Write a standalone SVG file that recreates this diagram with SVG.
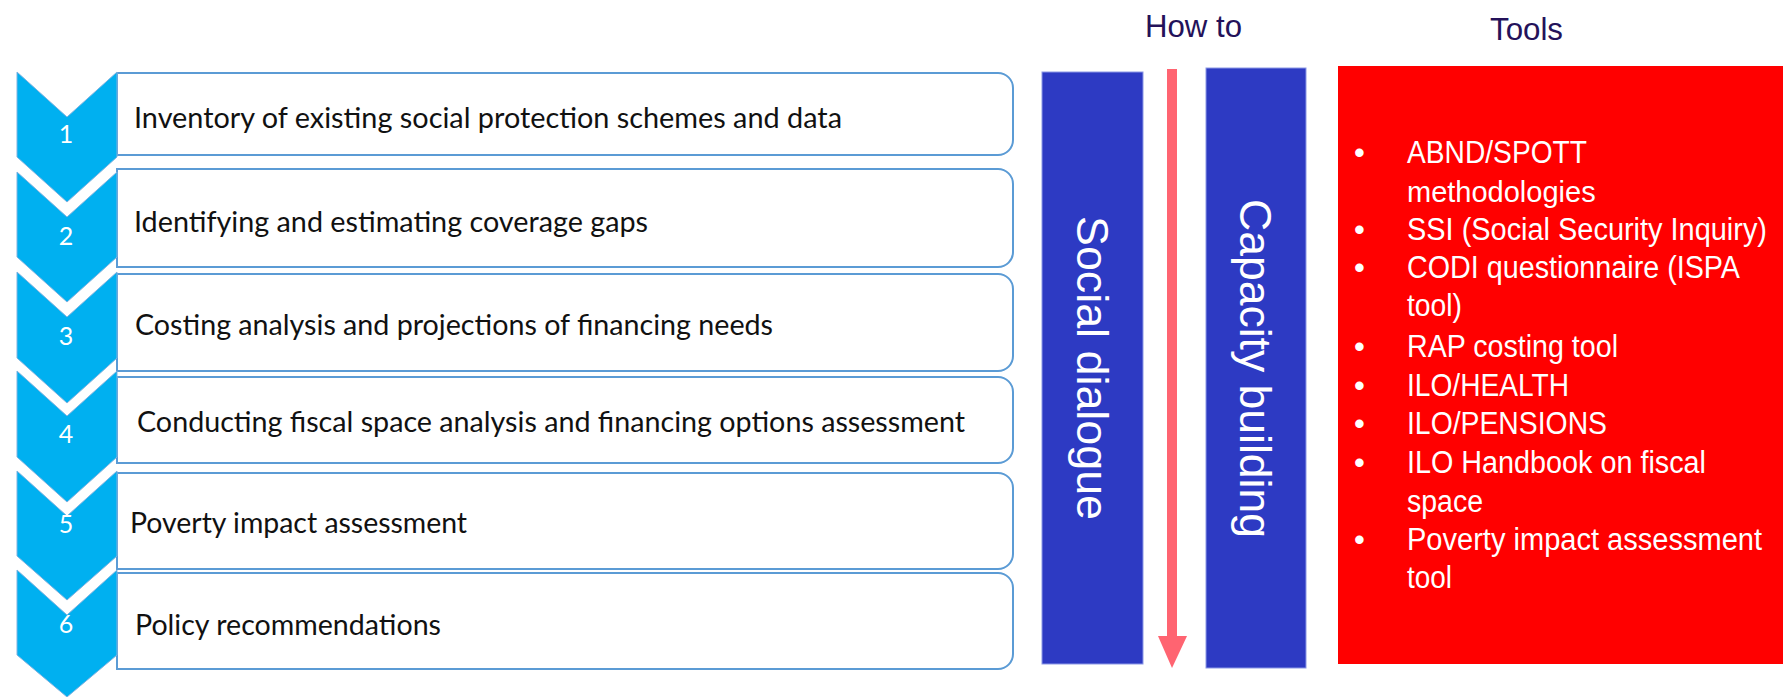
<svg xmlns="http://www.w3.org/2000/svg" width="1783" height="697" viewBox="0 0 1783 697">
<style>
.box{fill:#FFFFFF;stroke:#5B9BD5;stroke-width:2}
.chev{fill:#00B0F0;stroke:#7FB2E0;stroke-width:1}
.num{font-family:Lato,"Open Sans",sans-serif;font-size:25px;fill:#FFFFFF;text-anchor:middle}
.lbl{font-family:Lato,"Open Sans",sans-serif;font-size:29px;fill:#111111}
.bar{fill:#2D3AC3;stroke:#8C98E6;stroke-width:1}
.vtxt{font-family:"Liberation Sans",Arial,sans-serif;font-size:44px;fill:#FFFFFF}
.head{font-family:"Liberation Sans",Arial,sans-serif;font-size:31px;fill:#24125A}
.tool{font-family:"Liberation Sans",Arial,sans-serif;font-size:31px;fill:#FFFFFF}
</style>

<g id="step1">
<path class="box" d="M117,73 H998 A15,15 0 0 1 1013,88 V140 A15,15 0 0 1 998,155 H117 Z"/>
<path class="chev" d="M17,72 L67,117 L117,72 V157 L67,202 L17,157 Z"/>
<text class="num" x="66" y="143">1</text>
<text class="lbl" x="134" y="128" textLength="708" lengthAdjust="spacingAndGlyphs">Inventory of existing social protection schemes and data</text>
</g>

<g id="step2">
<path class="box" d="M117,169 H998 A15,15 0 0 1 1013,184 V252 A15,15 0 0 1 998,267 H117 Z"/>
<path class="chev" d="M17,172 L67,217 L117,172 V257 L67,302 L17,257 Z"/>
<text class="num" x="66" y="245">2</text>
<text class="lbl" x="134" y="232" textLength="514" lengthAdjust="spacingAndGlyphs">Identifying and estimating coverage gaps</text>
</g>

<g id="step3">
<path class="box" d="M117,274 H998 A15,15 0 0 1 1013,289 V356 A15,15 0 0 1 998,371 H117 Z"/>
<path class="chev" d="M17,272 L67,317 L117,272 V358 L67,403 L17,358 Z"/>
<text class="num" x="66" y="345">3</text>
<text class="lbl" x="135" y="335" textLength="638" lengthAdjust="spacingAndGlyphs">Costing analysis and projections of financing needs</text>
</g>

<g id="step4">
<path class="box" d="M117,377 H998 A15,15 0 0 1 1013,392 V448 A15,15 0 0 1 998,463 H117 Z"/>
<path class="chev" d="M17,371 L67,416 L117,371 V457 L67,502 L17,457 Z"/>
<text class="num" x="66" y="443">4</text>
<text class="lbl" x="137" y="432" textLength="828" lengthAdjust="spacingAndGlyphs">Conducting fiscal space analysis and financing options assessment</text>
</g>

<g id="step5">
<path class="box" d="M117,473 H998 A15,15 0 0 1 1013,488 V554 A15,15 0 0 1 998,569 H117 Z"/>
<path class="chev" d="M17,471 L67,516 L117,471 V556 L67,600 L17,556 Z"/>
<text class="num" x="66" y="533">5</text>
<text class="lbl" x="130" y="533" textLength="337" lengthAdjust="spacingAndGlyphs">Poverty impact assessment</text>
</g>

<g id="step6">
<path class="box" d="M117,573 H998 A15,15 0 0 1 1013,588 V654 A15,15 0 0 1 998,669 H117 Z"/>
<path class="chev" d="M17,570 L67,615 L117,570 V655 L67,697 L17,655 Z"/>
<text class="num" x="66" y="633">6</text>
<text class="lbl" x="135" y="635" textLength="306" lengthAdjust="spacingAndGlyphs">Policy recommendations</text>
</g>

<g id="howto-heading">
<text class="head" x="1145" y="37" textLength="97" lengthAdjust="spacingAndGlyphs">How to</text>
</g>

<g id="social-dialogue">
<rect class="bar" x="1042" y="72" width="101" height="592"/>
<text class="vtxt" transform="translate(1077,216) rotate(90)" x="0" y="0" textLength="304" lengthAdjust="spacingAndGlyphs">Social dialogue</text>
</g>

<g id="capacity-building">
<rect class="bar" x="1206" y="68" width="100" height="600"/>
<text class="vtxt" transform="translate(1240,199) rotate(90)" x="0" y="0" textLength="339" lengthAdjust="spacingAndGlyphs">Capacity building</text>
</g>

<g id="connectors">
<rect x="1167" y="69" width="10" height="569" fill="#FF6471"/>
<path d="M1158,636 H1187 L1172,668 Z" fill="#FF6471"/>
</g>

<g id="tools-heading">
<text class="head" x="1490" y="40" textLength="73" lengthAdjust="spacingAndGlyphs">Tools</text>
</g>

<g id="tools">
<rect x="1338" y="66" width="445" height="598" fill="#FF0000"/>
<g class="tool">
<text x="1354" y="163">•</text>
<text x="1407" y="163" textLength="180" lengthAdjust="spacingAndGlyphs">ABND/SPOTT</text>
<text x="1407" y="202" font-size="29">methodologies</text>
<text x="1354" y="240">•</text>
<text x="1407" y="240" textLength="360" lengthAdjust="spacingAndGlyphs">SSI (Social Security Inquiry)</text>
<text x="1354" y="278">•</text>
<text x="1407" y="278" textLength="333" lengthAdjust="spacingAndGlyphs">CODI questionnaire (ISPA</text>
<text x="1407" y="316" textLength="55" lengthAdjust="spacingAndGlyphs">tool)</text>
<text x="1354" y="357">•</text>
<text x="1407" y="357" textLength="211" lengthAdjust="spacingAndGlyphs">RAP costing tool</text>
<text x="1354" y="396">•</text>
<text x="1407" y="396" textLength="162" lengthAdjust="spacingAndGlyphs">ILO/HEALTH</text>
<text x="1354" y="434">•</text>
<text x="1407" y="434" textLength="200" lengthAdjust="spacingAndGlyphs">ILO/PENSIONS</text>
<text x="1354" y="473">•</text>
<text x="1407" y="473" textLength="299" lengthAdjust="spacingAndGlyphs">ILO Handbook on fiscal</text>
<text x="1407" y="512" textLength="76" lengthAdjust="spacingAndGlyphs">space</text>
<text x="1354" y="550">•</text>
<text x="1407" y="550" textLength="355" lengthAdjust="spacingAndGlyphs">Poverty impact assessment</text>
<text x="1407" y="588" textLength="45" lengthAdjust="spacingAndGlyphs">tool</text>
</g>
</g>
</svg>
